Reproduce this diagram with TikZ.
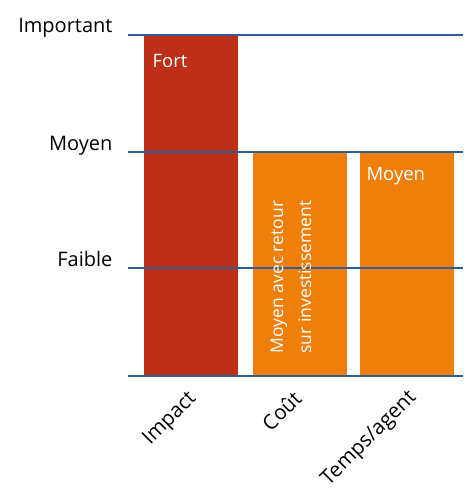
\documentclass[tikz,border=0pt]{standalone}
\usepackage{fontspec}
\setmainfont{Open Sans}
\definecolor{impactred}{HTML}{BE2F18}
\definecolor{levelorange}{HTML}{EE7F0A}
\definecolor{gridblue}{HTML}{2F5C96}

\begin{document}
\begin{tikzpicture}[x=1pt,y=-1pt,
    levellabel/.style={font=\fontsize{20}{24}\selectfont,anchor=base east},
    barlabel/.style={font=\fontsize{18.5}{22}\selectfont,text=white},
    axislabel/.style={font=\fontsize{20.5}{24}\selectfont,rotate=45,anchor=base east,inner sep=0pt}]
\useasboundingbox (0,0) rectangle (463,495);
% bars
\fill[impactred] (144,35) rectangle (238,376);
\fill[levelorange] (253,152) rectangle (347,376);
\fill[levelorange] (360,152) rectangle (454,376);
% levels
\foreach \y/\t [count=\i] in {35/Important,152/Moyen,268/Faible} {
  \draw[gridblue,line width=1.2pt] (128,\y) -- (463,\y);
  \node[levellabel] (level\i) at (116,\y-2) {\t};
}
\draw[gridblue,line width=1.2pt] (128,376) -- (463,376);
% texts in the bars
\node[barlabel,anchor=base west] (fort) at (149,67) {Fort};
\node[barlabel,anchor=base west] (moyen) at (363,180) {Moyen};
\node[barlabel,font=\fontsize{17.5}{28}\selectfont,rotate=90,align=center,inner sep=0pt]
  (roi) at (291,277) {Moyen avec retour\\sur investissement};
% categories
\node[axislabel] (impact) at (197,399) {Impact};
\node[axislabel] (cout) at (303,400) {Coût};
\node[axislabel] (temps) at (417,398) {Temps/agent};
\end{tikzpicture}
\end{document}
